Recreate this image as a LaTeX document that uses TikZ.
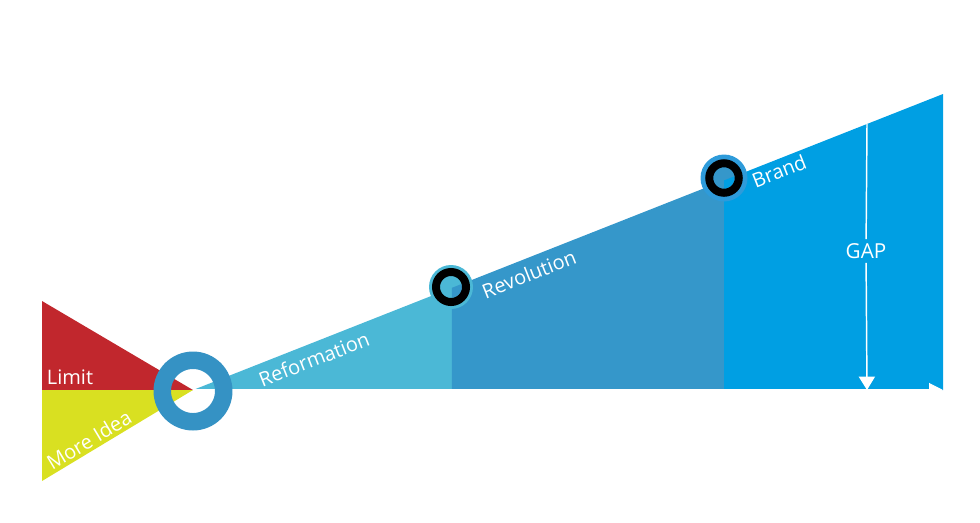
\documentclass[tikz,border=0pt]{standalone}
\usepackage{fontspec}
\setmainfont{Open Sans}
\usetikzlibrary{calc,arrows.meta}
\definecolor{limitred}{HTML}{C1272D}
\definecolor{ideayel}{HTML}{D9E021}
\definecolor{reform}{HTML}{4BB8D6}
\definecolor{revol}{HTML}{3597CA}
\definecolor{brand}{HTML}{009FE3}
\definecolor{ringblue}{HTML}{3592C4}
\definecolor{brandring}{HTML}{2E9BDA}
\tikzset{
  lab/.style={text=white, font=\fontsize{15}{18}\selectfont, inner sep=1pt},
  slope/.style={lab, rotate=21.5},
  ring/.style={draw=ringblue, line width=13.1pt},
  milering/.style={draw=black, line width=6pt},
  base/.style={draw=white, line width=0.8pt, -{Triangle[width=10.5pt,length=10.5pt]}},
  gapline/.style={draw=white, line width=1.1pt},
}
\begin{document}
\begin{tikzpicture}[x=0.75pt,y=-0.75pt]
  \useasboundingbox (0,0) rectangle (980,522);
  \coordinate (tip) at (193,390);
  \coordinate (top) at (943,94);
  \coordinate (end) at (943,390);
  \coordinate (p1) at ($(tip)!{259/750}!(top)$);
  \coordinate (p2) at ($(tip)!{531/750}!(top)$);
  \coordinate (gtop) at ($(tip)!{674/750}!(top)$);
  \coordinate (gbot) at (gtop |- tip);
  % limit / more idea
  \fill[limitred] (42,301) -- (42,390) -- (tip) -- cycle;
  \fill[ideayel] (42,390) -- (42,481) -- (tip) -- cycle;
  % stages
  \fill[reform] (tip) -- (p1) -- (p1 |- tip) -- cycle;
  \fill[revol] (p1 |- tip) -- (p1) -- (p2) -- (p2 |- tip) -- cycle;
  \fill[brand] (p2 |- tip) -- (p2) -- (top) -- (end) -- cycle;
  \draw[base] (tip) -- (end);
  % gap
  \node[lab, font=\fontsize{15.5}{18}\selectfont, inner sep=3pt] (gap) at (866,251) {GAP};
  \draw[gapline] (gtop) -- (gap);
  \draw[gapline, -{Triangle[width=12pt,length=10pt]}] (gap) -- (gbot);
  % milestones
  \draw[ring] (193,391) circle (30.75);
  \fill[reform] (451,287) circle (22);
  \begin{scope}
    \clip (451,287) circle (11);
    \fill[reform] (451,287) circle (11);
    \fill[revol] (p1 |- tip) -- (p1) -- (p2) -- (p2 |- tip) -- cycle;
  \end{scope}
  \draw[milering] (451,287) circle (15);
  \fill[brandring] (724,178) circle (23.5);
  \begin{scope}
    \clip (724,178) circle (10.5);
    \fill[revol] (724,178) circle (10.5);
    \fill[brand] (p2 |- tip) -- (p2) -- (top) -- (end) -- cycle;
  \end{scope}
  \draw[milering] (724,178) circle (14.75);
  % labels
  \node[lab] (limit) at (70,377) {Limit};
  \node[lab, rotate=31] (idea) at (89,440) {More Idea};
  \node[slope] (reformation) at (314,359) {Reformation};
  \node[slope] (revolution) at (529,274) {Revolution};
  \node[slope] (brandlab) at (779,171) {Brand};
\end{tikzpicture}
\end{document}
